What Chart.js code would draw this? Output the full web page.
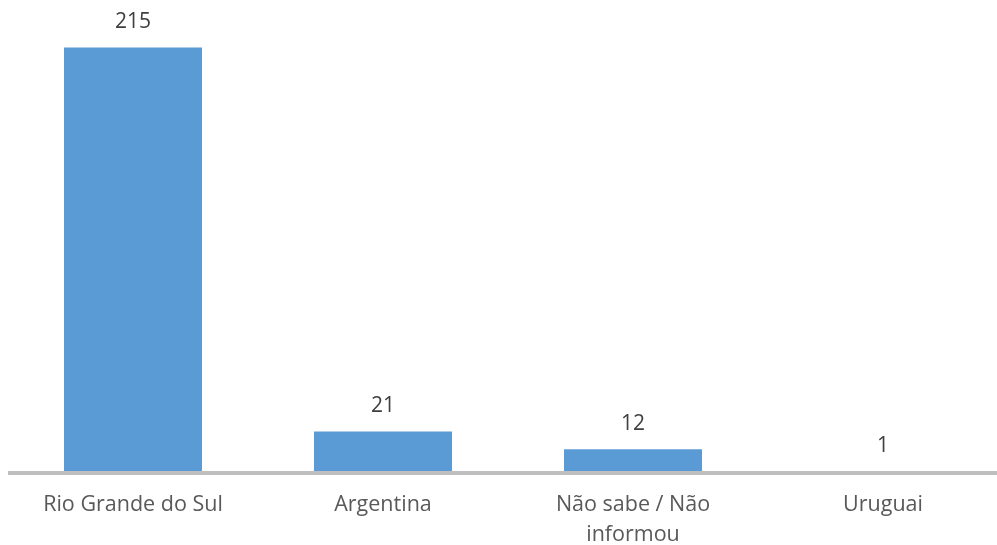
<!DOCTYPE html>
<html>
<head>
<meta charset="utf-8">
<script src="https://cdn.jsdelivr.net/npm/chart.js@4/dist/chart.umd.min.js"></script>
<style>
  html, body { margin: 0; padding: 0; background: #fff; overflow: hidden; }
  #wrap { width: 1008px; height: 545px; }
</style>
</head>
<body>
<div id="wrap"><canvas id="chart"></canvas></div>
<script>
const categories = ['Rio Grande do Sul', 'Argentina', ['Não sabe / Não', 'informou'], 'Uruguai']
const values = [215, 21, 12, 1]

const barColor = '#5b9bd5'

// value labels above each bar, and the grey baseline drawn over the bar feet
const valueLabels = {
  id: 'valueLabels',
  afterDatasetsDraw (chart) {
    const { ctx, chartArea } = chart
    const meta = chart.getDatasetMeta(0)
    const y0 = chart.scales.y.getPixelForValue(0)
    ctx.save()
    ctx.fillStyle = '#bfbfbf'
    ctx.fillRect(chartArea.left, y0 - 2, chartArea.right - chartArea.left, 4)
    ctx.font = '21px "Open Sans"'
    ctx.fillStyle = '#404040'
    ctx.textAlign = 'center'
    ctx.textBaseline = 'middle'
    meta.data.forEach((bar, i) => {
      ctx.fillText(String(values[i]), bar.x, bar.y - 25)
    })
    ctx.restore()
  }
}

new Chart(document.getElementById('chart'), {
  type: 'bar',
  data: {
    labels: categories,
    datasets: [{
      data: values,
      backgroundColor: barColor,
      borderWidth: 0,
      categoryPercentage: 1,
      barPercentage: 0.552
    }]
  },
  options: {
    responsive: true,
    maintainAspectRatio: false,
    animation: false,
    layout: { padding: { left: 8, right: 0, top: 0, bottom: 0 } },
    plugins: {
      legend: { display: false },
      tooltip: { enabled: false }
    },
    scales: {
      x: {
        grid: { display: false, drawTicks: false },
        border: { display: false },
        ticks: {
          color: '#595959',
          font: { family: '"Open Sans"', size: 21.5, lineHeight: 1.4 },
          padding: 17,
          maxRotation: 0,
          autoSkip: false
        },
        afterFit (scale) { scale.height = 72 }
      },
      y: {
        display: false,
        min: 0,
        max: 239
      }
    }
  },
  plugins: [valueLabels]
})
</script>
</body>
</html>
